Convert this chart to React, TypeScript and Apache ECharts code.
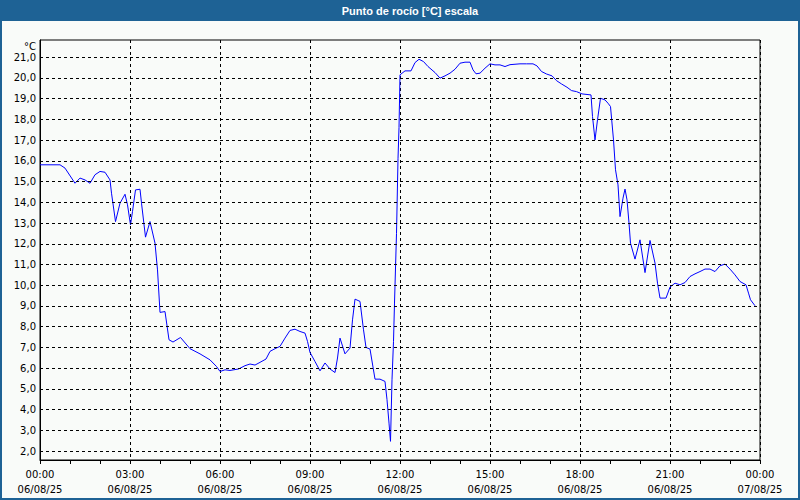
import React, { useEffect, useRef } from "react";
import * as echarts from "echarts";

const TITLE = "Punto de rocío [°C] escala";
const UNIT = "°C";

const times: string[] = [
  "00:00", "00:40", "00:50", "01:10", "01:20", "01:30", "01:40", "01:50", "02:00", "02:10",
  "02:20", "02:23", "02:31", "02:40", "02:50", "02:55", "03:01", "03:05", "03:11", "03:20",
  "03:23", "03:31", "03:40", "03:50", "03:55", "04:00", "04:10", "04:18", "04:26", "04:41",
  "05:00", "05:20", "05:40", "05:53", "06:00", "06:10", "06:20", "06:37", "06:50", "07:00",
  "07:10", "07:20", "07:32", "07:40", "07:50", "08:00", "08:10", "08:20", "08:30", "08:40",
  "08:50", "08:55", "09:00", "09:10", "09:20", "09:30", "09:40", "09:50", "09:55", "10:00",
  "10:10", "10:20", "10:25", "10:30", "10:40", "10:47", "10:52", "11:00", "11:10", "11:20",
  "11:30", "11:34", "11:38", "11:41", "11:44", "11:47", "11:49", "11:53", "11:56", "11:58",
  "12:00", "12:10", "12:22", "12:30", "12:38", "12:47", "12:56", "13:10", "13:20", "13:30",
  "13:40", "13:50", "14:00", "14:10", "14:20", "14:26", "14:32", "14:40", "14:50", "15:00",
  "15:10", "15:20", "15:30", "15:40", "16:00", "16:13", "16:26", "16:34", "16:43", "16:53",
  "17:04", "17:13", "17:23", "17:34", "17:43", "17:53", "18:04", "18:22", "18:25", "18:30",
  "18:35", "18:41", "18:50", "18:56", "19:01", "19:07", "19:11", "19:16", "19:20", "19:26",
  "19:30", "19:34", "19:38", "19:41", "19:50", "20:00", "20:10", "20:20", "20:30", "20:35",
  "20:40", "20:52", "21:00", "21:10", "21:20", "21:30", "21:40", "21:50", "22:00", "22:10",
  "22:20", "22:30", "22:40", "22:50", "23:00", "23:10", "23:20", "23:32", "23:37", "23:41",
  "23:50",
];

const dewPoint: number[] = [
  15.81, 15.81, 15.65, 14.92, 15.17, 15.08, 14.92, 15.33, 15.49, 15.45,
  15.08, 14.44, 13.07, 13.96, 14.39, 13.88, 12.91, 13.56, 14.6, 14.63,
  13.96, 12.32, 13.07, 12.03, 10.74, 8.69, 8.73, 7.37, 7.26, 7.48,
  6.94, 6.69, 6.4, 6.08, 5.84, 5.92, 5.89, 5.96, 6.12, 6.2,
  6.15, 6.28, 6.44, 6.81, 6.94, 7.05, 7.45, 7.82, 7.88, 7.77,
  7.69, 7.29, 6.76, 6.32, 5.87, 6.25, 5.96, 5.79, 6.49, 7.45,
  6.69, 6.97, 8.33, 9.33, 9.22, 7.85, 7.0, 6.92, 5.47, 5.47,
  5.36, 4.48, 3.35, 2.47, 5.44, 7.29, 9.14, 12.5, 16.1, 17.6,
  20.15, 20.34, 20.34, 20.74, 20.9, 20.79, 20.55, 20.26, 19.99, 20.1,
  20.23, 20.42, 20.71, 20.76, 20.76, 20.39, 20.2, 20.23, 20.47, 20.68,
  20.63, 20.63, 20.55, 20.64, 20.68, 20.68, 20.68, 20.58, 20.31, 20.19,
  20.1, 19.87, 19.71, 19.55, 19.39, 19.34, 19.23, 19.18, 18.14, 17.01,
  17.98, 19.02, 18.94, 18.78, 18.62, 17.01, 15.57, 14.84, 13.31, 14.2,
  14.64, 14.12, 13.0, 12.03, 11.26, 12.19, 10.61, 12.16, 11.07, 10.1,
  9.38, 9.38, 9.91, 10.1, 10.02, 10.13, 10.42, 10.55, 10.66, 10.78,
  10.78, 10.66, 10.94, 11.02, 10.78, 10.5, 10.18, 10.02, 9.62, 9.3,
  9.01,
];

const yTicks: number[] = [2, 3, 4, 5, 6, 7, 8, 9, 10, 11, 12, 13, 14, 15, 16, 17, 18, 19, 20, 21];
const DAY1 = "06/08/25";
const DAY2 = "07/08/25";

const FONT = "'DejaVu Sans', Verdana, sans-serif";
const BLUE = "#1e6295";

function toHours(t: string): number {
  const [h, m] = t.split(":").map(Number);
  return h + m / 60;
}

export default function App() {
  const ref = useRef<HTMLDivElement>(null);

  useEffect(() => {
    if (!ref.current) return;
    const chart = echarts.init(ref.current, undefined, { renderer: "svg" });
    const data = times.map((t, i) => [toHours(t), dewPoint[i]]);
    const dash = [3, 3];

    chart.setOption({
      animation: false,
      backgroundColor: "#f9fbf9",
      textStyle: { fontFamily: FONT },
      grid: {
        left: 40,
        right: 40,
        top: 40,
        bottom: 40,
        show: true,
        borderColor: "#000",
        borderWidth: 1,
        backgroundColor: "transparent",
      },
      xAxis: {
        type: "value",
        min: 0,
        max: 24,
        interval: 3,
        axisLine: { show: true, lineStyle: { color: "#000", width: 1 } },
        axisTick: { show: true, length: 4, lineStyle: { color: "#000" } },
        minorTick: { show: true, splitNumber: 3, length: 4, lineStyle: { color: "#000" } },
        splitLine: { show: true, lineStyle: { color: "#000", type: dash, width: 1 } },
        axisLabel: {
          show: true,
          showMinLabel: true,
          showMaxLabel: true,
          margin: 7,
          color: "#000",
          fontFamily: FONT,
          fontSize: 10,
          lineHeight: 15,
          formatter: (v: number) => {
            const h = Math.round(v) % 24;
            const hh = String(h).padStart(2, "0") + ":00";
            return hh + "\n" + (v >= 24 ? DAY2 : DAY1);
          },
        },
      },
      yAxis: {
        type: "value",
        min: 1.57,
        max: 21.83,
        axisLine: { show: true, lineStyle: { color: "#000", width: 1 } },
        axisTick: { show: false },
        splitLine: { show: false },
        axisLabel: {
          show: true,
          customValues: yTicks,
          margin: 4,
          color: "#000",
          fontFamily: FONT,
          fontSize: 10,
          formatter: (v: number) => v.toFixed(1).replace(".", ","),
        },
      },
      series: [
        {
          type: "line",
          data: [],
          z: 1,
          silent: true,
          markLine: {
            silent: true,
            symbol: ["none", "none"],
            label: { show: false },
            animation: false,
            lineStyle: { color: "#000", type: dash, width: 1 },
            emphasis: { disabled: true },
            data: yTicks.map((v) => ({ yAxis: v })),
          },
        },
        {
          type: "line",
          data,
          z: 3,
          showSymbol: false,
          symbol: "none",
          lineStyle: { color: "#0000ff", width: 1 },
          itemStyle: { color: "#0000ff" },
        },
      ],
      graphic: [
        {
          type: "rect",
          z: 100,
          shape: { x: 0, y: 0, width: 800, height: 21 },
          style: { fill: BLUE },
        },
        {
          type: "rect",
          z: 100,
          shape: { x: 1, y: 1, width: 798, height: 498 },
          style: { fill: "none", stroke: BLUE, lineWidth: 2 },
        },
        {
          type: "text",
          z: 101,
          x: 410,
          y: 10.5,
          style: {
            text: TITLE,
            fill: "#fff",
            font: "bold 11px 'Liberation Sans', Arial, sans-serif",
            textAlign: "center",
            textVerticalAlign: "middle",
          },
        },
        {
          type: "text",
          z: 101,
          x: 36,
          y: 46,
          style: {
            text: UNIT,
            fill: "#000",
            font: "10px " + FONT,
            textAlign: "right",
            textVerticalAlign: "middle",
          },
        },
      ],
    });

    return () => chart.dispose();
  }, []);

  return (
    <div
      ref={ref}
      style={{ position: "fixed", left: 0, top: 0, width: 800, height: 500 }}
    />
  );
}
